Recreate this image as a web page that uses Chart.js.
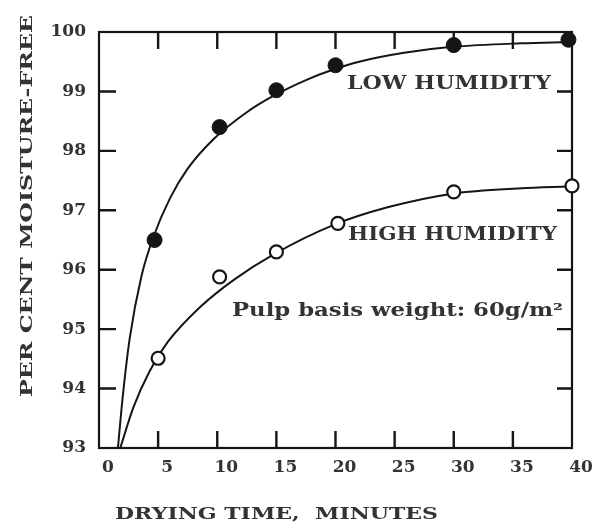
<!DOCTYPE html>
<html>
<head>
<meta charset="utf-8">
<script src="https://cdn.jsdelivr.net/npm/chart.js@4.4.1/dist/chart.umd.min.js"></script>
<style>
  html, body { margin: 0; padding: 0; background: #ffffff; }
  #wrap { width: 607px; height: 527px; }
</style>
</head>
<body>
<div id="wrap"><canvas id="c" width="607" height="527"></canvas></div>
<script>
// ---- data ----
const xTickLabels = ['0', '5', '10', '15', '20', '25', '30', '35', '40'];
const yTickLabels = ['93', '94', '95', '96', '97', '98', '99', '100'];

const lowTimes  = [4.7, 10.2, 15, 20, 30, 39.7];
const lowValues = [96.5, 98.4, 99.02, 99.44, 99.78, 99.87];

const highTimes  = [5, 10.2, 15, 20.2, 30, 40];
const highValues = [94.51, 95.88, 96.3, 96.78, 97.31, 97.41];

// fitted curves as drawn in the reference
const lowCurveTimes  = [1.6, 2.0, 2.6, 3.6, 4.6, 6.0, 7.5, 9.7, 12.5, 14.7, 17.6, 19.7, 22, 25.8, 29.9, 35.7, 39.7];
const lowCurveValues = [93.0, 93.85, 94.85, 95.9, 96.55, 97.2, 97.7, 98.2, 98.65, 98.92, 99.2, 99.36, 99.5, 99.65, 99.75, 99.81, 99.83];

const highCurveTimes  = [1.8, 2.9, 4.3, 5.8, 8.6, 11.4, 14.7, 19.8, 24.4, 29.9, 35.7, 39.7];
const highCurveValues = [93.0, 93.68, 94.3, 94.78, 95.38, 95.83, 96.25, 96.75, 97.05, 97.28, 97.37, 97.4];

const annotations = ['LOW HUMIDITY', 'HIGH HUMIDITY', 'Pulp basis weight: 60g/m²'];
const xTitle = 'DRYING TIME,  MINUTES';
const yTitle = 'PER CENT MOISTURE-FREE';

const toXY = (xs, ys) => xs.map((x, i) => ({ x: x, y: ys[i] }));

const INK = '#151515';
const TEXT = '#333333';
const SERIF = '"DejaVu Serif", "Liberation Serif", serif';

function fitText(ctx, txt, x, y, w, font, rot) {
  ctx.save();
  ctx.font = font;
  const m = ctx.measureText(txt).width;
  ctx.translate(x, y);
  if (rot) ctx.rotate(rot);
  ctx.scale(w / m, 1);
  ctx.textAlign = 'left';
  ctx.textBaseline = 'alphabetic';
  ctx.fillStyle = TEXT;
  ctx.fillText(txt, 0, 0);
  ctx.restore();
}

const framePlugin = {
  id: 'frame',
  beforeDatasetsDraw(chart) {
    const { ctx, chartArea: a, scales } = chart;
    const xs = scales.x, ys = scales.y;
    ctx.save();
    ctx.strokeStyle = INK;
    ctx.lineWidth = 2.2;
    ctx.strokeRect(a.left, a.top, a.right - a.left, a.bottom - a.top);
    ctx.lineWidth = 2.4;
    ctx.beginPath();
    for (let v = 5; v < 40; v += 5) {
      const px = xs.getPixelForValue(v);
      ctx.moveTo(px, a.bottom); ctx.lineTo(px, a.bottom - 17);
      ctx.moveTo(px, a.top); ctx.lineTo(px, a.top + 17);
    }
    for (let v = 94; v < 100; v += 1) {
      const py = ys.getPixelForValue(v);
      ctx.moveTo(a.left, py); ctx.lineTo(a.left + 17, py);
      ctx.moveTo(a.right, py); ctx.lineTo(a.right - 15, py);
    }
    ctx.stroke();
    ctx.restore();
  },
  afterDraw(chart) {
    const ctx = chart.ctx;
    fitText(ctx, annotations[0], 347, 89, 204, 'bold 19px ' + SERIF);
    fitText(ctx, annotations[1], 348, 240, 209, 'bold 19px ' + SERIF);
    fitText(ctx, annotations[2], 232, 316, 331, 'bold 18px ' + SERIF);
    fitText(ctx, xTitle, 115, 519, 323, 'bold 17px ' + SERIF);
    fitText(ctx, yTitle, 32, 397, 382, 'bold 17px ' + SERIF, -Math.PI / 2);
  }
};

new Chart(document.getElementById('c'), {
  type: 'scatter',
  data: {
    datasets: [
      {
        label: 'Low humidity',
        data: toXY(lowTimes, lowValues),
        pointRadius: 7.5,
        pointBackgroundColor: INK,
        pointBorderColor: INK,
        pointBorderWidth: 1,
        showLine: false,
        clip: false,
        order: 0
      },
      {
        label: 'High humidity',
        data: toXY(highTimes, highValues),
        pointRadius: 6.5,
        pointBackgroundColor: '#ffffff',
        pointBorderColor: INK,
        pointBorderWidth: 2.2,
        showLine: false,
        clip: false,
        order: 0
      },
      {
        label: 'Low curve',
        type: 'line',
        data: toXY(lowCurveTimes, lowCurveValues),
        borderColor: INK,
        borderWidth: 2,
        pointRadius: 0,
        cubicInterpolationMode: 'monotone',
        fill: false,
        order: 1
      },
      {
        label: 'High curve',
        type: 'line',
        data: toXY(highCurveTimes, highCurveValues),
        borderColor: INK,
        borderWidth: 2,
        pointRadius: 0,
        cubicInterpolationMode: 'monotone',
        fill: false,
        order: 1
      }
    ]
  },
  options: {
    responsive: false,
    animation: false,
    events: [],
    layout: { padding: { top: 32, right: 35, left: 0, bottom: 0 } },
    plugins: { legend: { display: false }, tooltip: { enabled: false }, title: { display: false } },
    scales: {
      x: {
        type: 'linear',
        min: 0, max: 40,
        grid: { display: false, drawTicks: false },
        border: { display: false },
        afterFit(s) { s.height = 79; },
        ticks: {
          stepSize: 5,
          padding: 9,
          labelOffset: 9,
          color: TEXT,
          font: { family: SERIF, size: 17, weight: 'bold' },
          maxRotation: 0,
          callback: (v) => xTickLabels[xTickLabels.indexOf(String(v))] ?? ''
        }
      },
      y: {
        type: 'linear',
        min: 93, max: 100,
        grid: { display: false, drawTicks: false },
        border: { display: false },
        afterFit(s) { s.width = 99; },
        ticks: {
          stepSize: 1,
          padding: 13,
          color: TEXT,
          font: { family: SERIF, size: 17, weight: 'bold' },
          callback: (v) => yTickLabels[yTickLabels.indexOf(String(v))] ?? ''
        }
      }
    }
  },
  plugins: [framePlugin]
});
</script>
</body>
</html>
